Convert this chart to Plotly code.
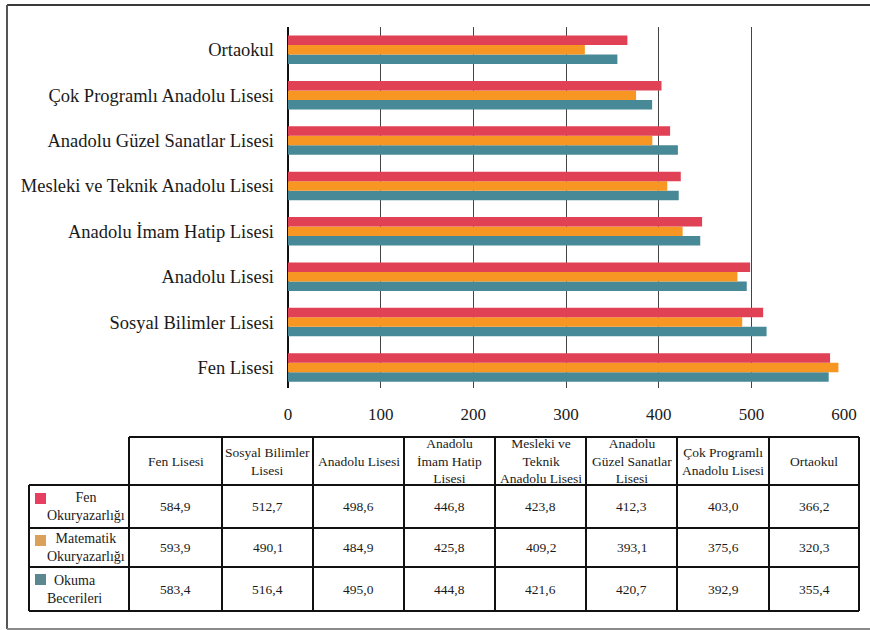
import plotly.graph_objects as go

# ---- data ----
categories = ["Fen Lisesi", "Sosyal Bilimler Lisesi", "Anadolu Lisesi",
              "Anadolu İmam Hatip Lisesi", "Mesleki ve Teknik Anadolu Lisesi",
              "Anadolu Güzel Sanatlar Lisesi", "Çok Programlı Anadolu Lisesi", "Ortaokul"]
table_headers = ["Fen Lisesi", "Sosyal Bilimler<br>Lisesi", "Anadolu Lisesi",
                 "Anadolu<br>İmam Hatip<br>Lisesi", "Mesleki ve<br>Teknik<br>Anadolu Lisesi",
                 "Anadolu<br>Güzel Sanatlar<br>Lisesi", "Çok Programlı<br>Anadolu Lisesi", "Ortaokul"]
series_names = ["Fen Okuryazarlığı", "Matematik Okuryazarlığı", "Okuma Becerileri"]
series_labels = ["Fen<br>Okuryazarlığı", "Matematik<br>Okuryazarlığı", "Okuma<br>Becerileri"]
fen = [584.9, 512.7, 498.6, 446.8, 423.8, 412.3, 403.0, 366.2]
matematik = [593.9, 490.1, 484.9, 425.8, 409.2, 393.1, 375.6, 320.3]
okuma = [583.4, 516.4, 495.0, 444.8, 421.6, 420.7, 392.9, 355.4]
x_ticks = [0, 100, 200, 300, 400, 500, 600]

bar_colors = ["#E04155", "#F79623", "#488998"]
legend_colors = ["#E63F62", "#D9A15A", "#5B8791"]
FONT = "Liberation Serif"

W, H = 870, 630
ML, MR, MT, MB = 288, 25, 27, 242
PW, PH = W - ML - MR, H - MT - MB


def X(px):
    return (px - ML) / PW


def Y(py):
    return (H - MB - py) / PH


fig = go.Figure()
all_series = [fen, matematik, okuma]
# add in reverse so that Fen (red) sits on top within each group
for i in [2, 1, 0]:
    fig.add_trace(go.Bar(
        y=categories, x=all_series[i], orientation="h", name=series_names[i],
        marker=dict(color=bar_colors[i], line=dict(width=0)), hoverinfo="skip"))

shapes = []
annotations = []


def line(x0, y0, x1, y1, color="#111", width=2):
    shapes.append(dict(type="line", xref="paper", yref="paper",
                       x0=X(x0), y0=Y(y0), x1=X(x1), y1=Y(y1),
                       line=dict(color=color, width=width)))


# outer frame
line(7, 5, 870, 5, "#3a3a3a", 2)
line(7, 5, 7, 629, "#555555", 2)
line(7, 629, 870, 629, "#8a8a8a", 2)

# table grid
col_edges = [129, 222, 313, 404, 495, 586, 677, 769, 859]
row_edges = [437, 485, 528, 567, 611]
line(129, row_edges[0], 859, row_edges[0])
for ry in row_edges[1:]:
    line(29, ry, 859, ry)
line(29, row_edges[1], 29, row_edges[-1])
for cx in col_edges:
    line(cx, row_edges[0], cx, row_edges[-1])

# header cells
for j, h in enumerate(table_headers):
    cx = (col_edges[j] + col_edges[j + 1]) / 2
    cy = (row_edges[0] + row_edges[1]) / 2
    annotations.append(dict(xref="paper", yref="paper", x=X(cx), y=Y(cy),
                            text=h, showarrow=False, xanchor="center", yanchor="middle",
                            align="center", font=dict(family=FONT, size=13.5, color="#1a1a1a")))

# value cells and row labels
label_x = [86, 86, 74]
for i, vals in enumerate(all_series):
    cy = (row_edges[i + 1] + row_edges[i + 2]) / 2
    for j, v in enumerate(vals):
        cx = (col_edges[j] + col_edges[j + 1]) / 2
        annotations.append(dict(xref="paper", yref="paper", x=X(cx), y=Y(cy),
                                text=f"{v:.1f}".replace(".", ","), showarrow=False,
                                xanchor="center", yanchor="middle",
                                font=dict(family=FONT, size=13.5, color="#1a1a1a")))
    annotations.append(dict(xref="paper", yref="paper", x=X(label_x[i]), y=Y(cy),
                            text=series_labels[i], showarrow=False,
                            xanchor="center", yanchor="middle", align="center",
                            font=dict(family=FONT, size=14, color="#1a1a1a")))
    sy = [493, 535, 574][i]
    shapes.append(dict(type="rect", xref="paper", yref="paper",
                       x0=X(35), x1=X(46), y0=Y(sy), y1=Y(sy + 11),
                       fillcolor=legend_colors[i], line=dict(width=0)))

fig.update_layout(
    width=W, height=H,
    margin=dict(l=ML, r=MR, t=MT, b=MB),
    paper_bgcolor="white", plot_bgcolor="white",
    barmode="group", bargap=0.372, bargroupgap=0,
    showlegend=False,
    shapes=shapes, annotations=annotations,
    font=dict(family=FONT, color="#1a1a1a"),
    xaxis=dict(range=[0, 601], tickvals=x_ticks, ticktext=[str(t) for t in x_ticks],
               showgrid=True, gridcolor="#444444", gridwidth=1.3,
               zeroline=True, zerolinecolor="#111", zerolinewidth=1.5,
               showline=False, ticks="", ticklabelstandoff=14,
               tickfont=dict(family=FONT, size=17, color="#1a1a1a")),
    yaxis=dict(type="category", categoryorder="array", categoryarray=categories,
               range=[-0.452, 7.502], showgrid=False, zeroline=False,
               showline=False, ticks="", ticklabelstandoff=13,
               tickfont=dict(family=FONT, size=18.5, color="#1a1a1a")),
)

fig.write_html("out.html")
